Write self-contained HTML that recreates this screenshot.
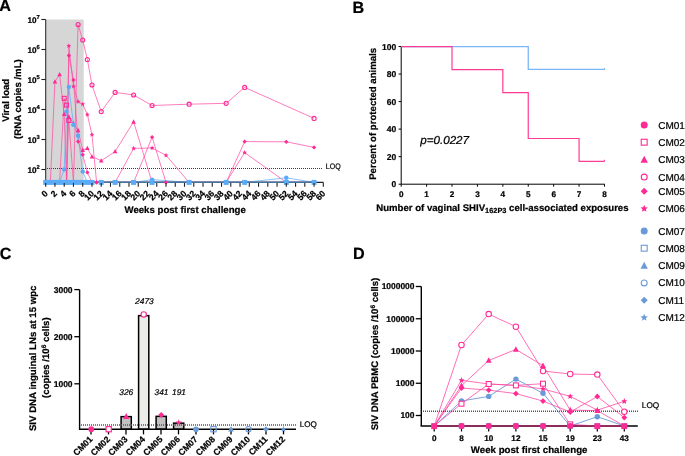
<!DOCTYPE html>
<html><head><meta charset="utf-8"><style>
html,body{margin:0;padding:0;background:#fff;}
svg{display:block;font-family:"Liberation Sans",sans-serif;will-change:transform;text-rendering:geometricPrecision;}
text{stroke:#000;stroke-width:0.22px;}
</style></head><body>
<svg width="685" height="456" viewBox="0 0 685 456">
<rect width="685" height="456" fill="#fff"/>
<g id="A">
<text x="-0.8" y="11.0" font-size="16.2" font-weight="bold" font-style="normal" text-anchor="start" fill="#000" >A</text>
<rect x="46.4" y="19.5" width="37.3" height="162.9" fill="#d6d6d6"/>
<line x1="47" y1="168.5" x2="323" y2="168.5" stroke="#3a3a3a" stroke-width="1.2" stroke-dasharray="1,1"/>
<text x="325.8" y="169.0" font-size="8" font-weight="normal" font-style="normal" text-anchor="start" fill="#000" textLength="14.9" lengthAdjust="spacingAndGlyphs" >LOQ</text>
<line x1="45.7" y1="19.5" x2="45.7" y2="182.4" stroke="#444" stroke-width="1.3"/>
<polyline points="45.70,182.40 50.33,182.40 54.95,182.40 59.58,182.40 64.21,182.40 66.52,182.40 68.84,182.40 73.46,182.40 78.09,182.40 82.72,182.40 87.34,182.40 91.97,182.40 101.22,182.40 115.11,182.40 133.61,182.40 152.12,182.40 189.14,182.40 226.15,182.40 244.66,182.40 286.30,182.40 314.07,182.40" fill="none" stroke="#ff4aa3" stroke-width="0.8" stroke-opacity="0.9"/>
<polyline points="45.70,182.40 50.33,182.40 54.95,182.40 59.58,182.40 64.21,98.30 66.52,105.10 68.84,120.50 73.46,182.40 78.09,182.40 82.72,182.40 87.34,182.40 91.97,182.40 101.22,182.40 115.11,182.40 133.61,182.40 152.12,182.40 189.14,182.40 226.15,182.40 244.66,182.40 286.30,182.40 314.07,182.40" fill="none" stroke="#ff4aa3" stroke-width="0.8" stroke-opacity="0.9"/>
<polyline points="45.70,182.40 50.33,182.40 54.95,81.70 59.58,74.50 64.21,114.10 66.52,182.40 68.84,116.80 73.46,123.50 78.09,130.40 82.72,150.10 87.34,148.20 91.97,156.70 101.22,160.70 115.11,151.50 133.61,121.80 152.12,182.40 189.14,182.40 226.15,182.40 244.66,182.40 286.30,182.40 314.07,182.40" fill="none" stroke="#ff4aa3" stroke-width="0.8" stroke-opacity="0.9"/>
<polyline points="45.70,182.40 50.33,182.40 54.95,182.40 59.58,182.40 64.21,182.40 68.84,182.40 73.46,182.40 78.09,24.60 82.72,40.00 87.34,59.50 91.97,85.00 101.22,111.60 115.11,92.40 133.61,95.00 152.12,105.50 189.14,104.20 226.15,103.30 244.66,87.40 314.07,118.40" fill="none" stroke="#ff4aa3" stroke-width="0.8" stroke-opacity="0.9"/>
<polyline points="45.70,182.40 50.33,182.40 54.95,182.40 59.58,182.40 64.21,182.40 66.52,182.40 68.84,55.50 73.46,80.00 78.09,141.60 82.72,154.70 87.34,172.40 91.97,182.40 96.60,182.40 101.22,182.40 115.11,182.40 133.61,182.40 152.12,137.20 166.00,182.40 189.14,182.40 226.15,182.40 244.66,141.60 286.30,141.80 314.07,147.40" fill="none" stroke="#ff4aa3" stroke-width="0.8" stroke-opacity="0.9"/>
<polyline points="45.70,182.40 50.33,182.40 52.64,182.40 54.95,182.40 59.58,182.40 64.21,182.40 66.52,182.40 68.84,45.90 73.46,86.30 78.09,101.60 82.72,104.20 87.34,114.60 91.97,134.70 96.60,182.40 101.22,182.40 115.11,182.40 133.61,148.40 152.12,148.00 166.00,155.30 189.14,182.40 226.15,182.40 244.66,152.60 286.30,182.40 314.07,182.40" fill="none" stroke="#ff4aa3" stroke-width="0.8" stroke-opacity="0.9"/>
<polyline points="45.70,182.40 50.33,182.40 54.95,182.40 59.58,182.40 64.21,169.40 66.52,111.60 68.84,87.00 73.46,124.70 78.09,135.70 82.72,171.60 87.34,182.40 91.97,182.40 101.22,182.40 115.11,182.40 133.61,182.40 152.12,179.60 189.14,182.40 226.15,182.40 244.66,182.40 286.30,177.80 314.07,182.40" fill="none" stroke="#5aabf7" stroke-width="0.8" stroke-opacity="0.9"/>
<polyline points="45.70,182.40 50.33,182.40 54.95,182.40 59.58,182.40 64.21,182.40 66.52,182.40 68.84,182.40 73.46,182.40 78.09,182.40 82.72,182.40 87.34,182.40 91.97,182.40 101.22,182.40 115.11,182.40 133.61,182.40 152.12,182.40 189.14,182.40 226.15,182.40 244.66,182.40 286.30,182.40 314.07,182.40" fill="none" stroke="#5aabf7" stroke-width="0.8" stroke-opacity="0.9"/>
<polyline points="45.70,182.40 50.33,182.40 54.95,182.40 59.58,182.40 64.21,182.40 66.52,182.40 68.84,182.40 73.46,182.40 78.09,182.40 82.72,182.40 87.34,182.40 91.97,182.40 101.22,182.40 115.11,182.40 133.61,182.40 152.12,182.40 189.14,182.40 226.15,182.40 244.66,182.40 286.30,182.40 314.07,182.40" fill="none" stroke="#5aabf7" stroke-width="0.8" stroke-opacity="0.9"/>
<polyline points="45.70,182.40 50.33,182.40 54.95,182.40 59.58,182.40 64.21,182.40 66.52,182.40 68.84,182.40 73.46,182.40 78.09,182.40 82.72,182.40 87.34,182.40 91.97,182.40 101.22,182.40 115.11,182.40 133.61,182.40 152.12,182.40 189.14,182.40 226.15,182.40 244.66,182.40 286.30,182.40 314.07,182.40" fill="none" stroke="#5aabf7" stroke-width="0.8" stroke-opacity="0.9"/>
<polyline points="45.70,182.40 50.33,182.40 54.95,182.40 59.58,182.40 64.21,182.40 66.52,182.40 68.84,182.40 73.46,182.40 78.09,182.40 82.72,182.40 87.34,182.40 91.97,182.40 101.22,182.40 115.11,182.40 133.61,182.40 152.12,182.40 189.14,182.40 226.15,182.40 244.66,182.40 286.30,182.40 314.07,182.40" fill="none" stroke="#5aabf7" stroke-width="0.8" stroke-opacity="0.9"/>
<polyline points="45.70,182.40 50.33,182.40 54.95,182.40 59.58,182.40 64.21,182.40 66.52,182.40 68.84,182.40 73.46,182.40 78.09,182.40 82.72,182.40 87.34,182.40 91.97,182.40 101.22,182.40 115.11,182.40 133.61,182.40 152.12,182.40 189.14,182.40 226.15,182.40 244.66,182.40 286.30,182.40 314.07,182.40" fill="none" stroke="#5aabf7" stroke-width="0.8" stroke-opacity="0.9"/>
<line x1="45.7" y1="182.4" x2="323.6" y2="182.4" stroke="#222" stroke-width="1.3"/>
<line x1="45.7" y1="182.4" x2="314.07" y2="182.4" stroke="#46729e" stroke-width="1.3"/>
<rect x="62.26" y="96.35" width="3.90" height="3.90" fill="none" stroke="#ff2a93" stroke-width="1.1"/>
<rect x="64.57" y="103.15" width="3.90" height="3.90" fill="none" stroke="#ff2a93" stroke-width="1.1"/>
<rect x="66.89" y="118.55" width="3.90" height="3.90" fill="none" stroke="#ff2a93" stroke-width="1.1"/>
<polygon points="54.95,79.15 52.64,83.55 57.26,83.55" fill="#ff2a93"/>
<polygon points="59.58,71.95 57.27,76.35 61.89,76.35" fill="#ff2a93"/>
<polygon points="64.21,111.55 61.90,115.95 66.52,115.95" fill="#ff2a93"/>
<polygon points="68.84,114.25 66.53,118.65 71.15,118.65" fill="#ff2a93"/>
<polygon points="73.46,120.95 71.15,125.35 75.77,125.35" fill="#ff2a93"/>
<polygon points="78.09,127.85 75.78,132.25 80.40,132.25" fill="#ff2a93"/>
<polygon points="82.72,147.55 80.41,151.95 85.03,151.95" fill="#ff2a93"/>
<polygon points="87.34,145.65 85.03,150.05 89.65,150.05" fill="#ff2a93"/>
<polygon points="91.97,154.15 89.66,158.55 94.28,158.55" fill="#ff2a93"/>
<polygon points="101.22,158.15 98.91,162.55 103.53,162.55" fill="#ff2a93"/>
<polygon points="115.11,148.95 112.80,153.35 117.42,153.35" fill="#ff2a93"/>
<polygon points="133.61,119.25 131.30,123.65 135.92,123.65" fill="#ff2a93"/>
<circle cx="78.09" cy="24.60" r="2.05" fill="none" stroke="#ff2a93" stroke-width="1.1"/>
<circle cx="82.72" cy="40.00" r="2.05" fill="none" stroke="#ff2a93" stroke-width="1.1"/>
<circle cx="87.34" cy="59.50" r="2.05" fill="none" stroke="#ff2a93" stroke-width="1.1"/>
<circle cx="91.97" cy="85.00" r="2.05" fill="none" stroke="#ff2a93" stroke-width="1.1"/>
<circle cx="101.22" cy="111.60" r="2.05" fill="none" stroke="#ff2a93" stroke-width="1.1"/>
<circle cx="115.11" cy="92.40" r="2.05" fill="none" stroke="#ff2a93" stroke-width="1.1"/>
<circle cx="133.61" cy="95.00" r="2.05" fill="none" stroke="#ff2a93" stroke-width="1.1"/>
<circle cx="152.12" cy="105.50" r="2.05" fill="none" stroke="#ff2a93" stroke-width="1.1"/>
<circle cx="189.14" cy="104.20" r="2.05" fill="none" stroke="#ff2a93" stroke-width="1.1"/>
<circle cx="226.15" cy="103.30" r="2.05" fill="none" stroke="#ff2a93" stroke-width="1.1"/>
<circle cx="244.66" cy="87.40" r="2.05" fill="none" stroke="#ff2a93" stroke-width="1.1"/>
<circle cx="314.07" cy="118.40" r="2.05" fill="none" stroke="#ff2a93" stroke-width="1.1"/>
<polygon points="68.84,53.35 70.99,55.50 68.84,57.65 66.69,55.50" fill="#ff2a93"/>
<polygon points="73.46,77.85 75.61,80.00 73.46,82.15 71.31,80.00" fill="#ff2a93"/>
<polygon points="78.09,139.45 80.24,141.60 78.09,143.75 75.94,141.60" fill="#ff2a93"/>
<polygon points="82.72,152.55 84.87,154.70 82.72,156.85 80.57,154.70" fill="#ff2a93"/>
<polygon points="87.34,170.25 89.49,172.40 87.34,174.55 85.19,172.40" fill="#ff2a93"/>
<polygon points="96.60,180.20 98.80,182.40 96.60,184.60 94.40,182.40" fill="#ff2a93"/>
<polygon points="152.12,135.05 154.27,137.20 152.12,139.35 149.97,137.20" fill="#ff2a93"/>
<polygon points="166.00,180.20 168.20,182.40 166.00,184.60 163.80,182.40" fill="#ff2a93"/>
<polygon points="244.66,139.45 246.81,141.60 244.66,143.75 242.51,141.60" fill="#ff2a93"/>
<polygon points="286.30,139.65 288.45,141.80 286.30,143.95 284.15,141.80" fill="#ff2a93"/>
<polygon points="314.07,145.25 316.22,147.40 314.07,149.55 311.92,147.40" fill="#ff2a93"/>
<polygon points="68.84,43.37 69.50,44.98 71.24,45.12 69.92,46.25 70.32,47.95 68.84,47.04 67.35,47.95 67.75,46.25 66.43,45.12 68.17,44.98" fill="#ff2a93"/>
<polygon points="73.46,83.77 74.13,85.38 75.87,85.52 74.54,86.65 74.95,88.35 73.46,87.44 71.97,88.35 72.38,86.65 71.06,85.52 72.79,85.38" fill="#ff2a93"/>
<polygon points="78.09,99.07 78.76,100.68 80.50,100.82 79.17,101.95 79.58,103.65 78.09,102.74 76.60,103.65 77.01,101.95 75.68,100.82 77.42,100.68" fill="#ff2a93"/>
<polygon points="82.72,101.67 83.39,103.28 85.12,103.42 83.80,104.55 84.20,106.25 82.72,105.34 81.23,106.25 81.63,104.55 80.31,103.42 82.05,103.28" fill="#ff2a93"/>
<polygon points="87.34,112.07 88.01,113.68 89.75,113.82 88.43,114.95 88.83,116.65 87.34,115.74 85.86,116.65 86.26,114.95 84.94,113.82 86.67,113.68" fill="#ff2a93"/>
<polygon points="91.97,132.17 92.64,133.78 94.38,133.92 93.05,135.05 93.46,136.75 91.97,135.84 90.48,136.75 90.89,135.05 89.56,133.92 91.30,133.78" fill="#ff2a93"/>
<polygon points="96.60,180.20 98.80,182.40 96.60,184.60 94.40,182.40" fill="#ff2a93"/>
<polygon points="133.61,145.87 134.28,147.48 136.02,147.62 134.70,148.75 135.10,150.45 133.61,149.54 132.13,150.45 132.53,148.75 131.21,147.62 132.94,147.48" fill="#ff2a93"/>
<polygon points="152.12,145.47 152.79,147.08 154.53,147.22 153.20,148.35 153.61,150.05 152.12,149.14 150.63,150.05 151.04,148.35 149.71,147.22 151.45,147.08" fill="#ff2a93"/>
<polygon points="166.00,152.77 166.67,154.38 168.41,154.52 167.08,155.65 167.49,157.35 166.00,156.44 164.51,157.35 164.92,155.65 163.60,154.52 165.33,154.38" fill="#ff2a93"/>
<polygon points="244.66,150.07 245.33,151.68 247.07,151.82 245.74,152.95 246.15,154.65 244.66,153.74 243.17,154.65 243.58,152.95 242.25,151.82 243.99,151.68" fill="#ff2a93"/>
<circle cx="64.21" cy="169.40" r="2.20" fill="#5aabf7"/>
<circle cx="66.52" cy="111.60" r="2.20" fill="#5aabf7"/>
<circle cx="68.84" cy="87.00" r="2.20" fill="#5aabf7"/>
<circle cx="73.46" cy="124.70" r="2.20" fill="#5aabf7"/>
<circle cx="78.09" cy="135.70" r="2.20" fill="#5aabf7"/>
<circle cx="82.72" cy="171.60" r="2.20" fill="#5aabf7"/>
<circle cx="152.12" cy="179.60" r="2.20" fill="#5aabf7"/>
<circle cx="286.30" cy="177.80" r="2.20" fill="#5aabf7"/>
<rect x="43.20" y="179.90" width="5.00" height="5.00" fill="#5aabf7"/>
<rect x="47.83" y="179.90" width="5.00" height="5.00" fill="#5aabf7"/>
<rect x="52.45" y="179.90" width="5.00" height="5.00" fill="#5aabf7"/>
<rect x="57.08" y="179.90" width="5.00" height="5.00" fill="#5aabf7"/>
<rect x="61.71" y="179.90" width="5.00" height="5.00" fill="#5aabf7"/>
<rect x="64.02" y="179.90" width="5.00" height="5.00" fill="#5aabf7"/>
<rect x="66.34" y="179.90" width="5.00" height="5.00" fill="#5aabf7"/>
<rect x="70.96" y="179.90" width="5.00" height="5.00" fill="#5aabf7"/>
<rect x="75.59" y="179.90" width="5.00" height="5.00" fill="#5aabf7"/>
<rect x="80.22" y="179.90" width="5.00" height="5.00" fill="#5aabf7"/>
<rect x="84.84" y="179.90" width="5.00" height="5.00" fill="#5aabf7"/>
<rect x="89.47" y="179.90" width="5.00" height="5.00" fill="#5aabf7"/>
<rect x="98.72" y="179.90" width="5.00" height="5.00" fill="#5aabf7"/>
<rect x="112.61" y="179.90" width="5.00" height="5.00" fill="#5aabf7"/>
<rect x="131.11" y="179.90" width="5.00" height="5.00" fill="#5aabf7"/>
<rect x="149.62" y="179.90" width="5.00" height="5.00" fill="#5aabf7"/>
<rect x="186.64" y="179.90" width="5.00" height="5.00" fill="#5aabf7"/>
<rect x="223.65" y="179.90" width="5.00" height="5.00" fill="#5aabf7"/>
<rect x="242.16" y="179.90" width="5.00" height="5.00" fill="#5aabf7"/>
<rect x="283.80" y="179.90" width="5.00" height="5.00" fill="#5aabf7"/>
<rect x="311.57" y="179.90" width="5.00" height="5.00" fill="#5aabf7"/>
<line x1="41.4" y1="169.5" x2="45.7" y2="169.5" stroke="#222" stroke-width="1.1"/>
<text x="36.5" y="172.7" font-size="8.2" font-weight="bold" text-anchor="end">10</text>
<text x="36.6" y="169.2" font-size="5.8" font-weight="bold">2</text>
<line x1="41.4" y1="139.5" x2="45.7" y2="139.5" stroke="#222" stroke-width="1.1"/>
<text x="36.5" y="142.7" font-size="8.2" font-weight="bold" text-anchor="end">10</text>
<text x="36.6" y="139.2" font-size="5.8" font-weight="bold">3</text>
<line x1="41.4" y1="109.5" x2="45.7" y2="109.5" stroke="#222" stroke-width="1.1"/>
<text x="36.5" y="112.7" font-size="8.2" font-weight="bold" text-anchor="end">10</text>
<text x="36.6" y="109.2" font-size="5.8" font-weight="bold">4</text>
<line x1="41.4" y1="79.5" x2="45.7" y2="79.5" stroke="#222" stroke-width="1.1"/>
<text x="36.5" y="82.7" font-size="8.2" font-weight="bold" text-anchor="end">10</text>
<text x="36.6" y="79.2" font-size="5.8" font-weight="bold">5</text>
<line x1="41.4" y1="49.5" x2="45.7" y2="49.5" stroke="#222" stroke-width="1.1"/>
<text x="36.5" y="52.7" font-size="8.2" font-weight="bold" text-anchor="end">10</text>
<text x="36.6" y="49.2" font-size="5.8" font-weight="bold">6</text>
<line x1="41.4" y1="19.5" x2="45.7" y2="19.5" stroke="#222" stroke-width="1.1"/>
<text x="36.5" y="22.7" font-size="8.2" font-weight="bold" text-anchor="end">10</text>
<text x="36.6" y="19.2" font-size="5.8" font-weight="bold">7</text>
<line x1="45.70" y1="183.0" x2="45.70" y2="186.8" stroke="#222" stroke-width="1.1"/>
<text transform="translate(48.40,194.1) rotate(-45)" font-size="8.7" font-weight="bold" text-anchor="end">0</text>
<line x1="54.95" y1="183.0" x2="54.95" y2="186.8" stroke="#222" stroke-width="1.1"/>
<text transform="translate(57.65,194.1) rotate(-45)" font-size="8.7" font-weight="bold" text-anchor="end">2</text>
<line x1="64.21" y1="183.0" x2="64.21" y2="186.8" stroke="#222" stroke-width="1.1"/>
<text transform="translate(66.91,194.1) rotate(-45)" font-size="8.7" font-weight="bold" text-anchor="end">4</text>
<line x1="73.46" y1="183.0" x2="73.46" y2="186.8" stroke="#222" stroke-width="1.1"/>
<text transform="translate(76.16,194.1) rotate(-45)" font-size="8.7" font-weight="bold" text-anchor="end">6</text>
<line x1="82.72" y1="183.0" x2="82.72" y2="186.8" stroke="#222" stroke-width="1.1"/>
<text transform="translate(85.42,194.1) rotate(-45)" font-size="8.7" font-weight="bold" text-anchor="end">8</text>
<line x1="91.97" y1="183.0" x2="91.97" y2="186.8" stroke="#222" stroke-width="1.1"/>
<text transform="translate(94.67,194.1) rotate(-45)" font-size="8.7" font-weight="bold" text-anchor="end">10</text>
<line x1="101.22" y1="183.0" x2="101.22" y2="186.8" stroke="#222" stroke-width="1.1"/>
<text transform="translate(103.92,194.1) rotate(-45)" font-size="8.7" font-weight="bold" text-anchor="end">12</text>
<line x1="110.48" y1="183.0" x2="110.48" y2="186.8" stroke="#222" stroke-width="1.1"/>
<text transform="translate(113.18,194.1) rotate(-45)" font-size="8.7" font-weight="bold" text-anchor="end">14</text>
<line x1="119.73" y1="183.0" x2="119.73" y2="186.8" stroke="#222" stroke-width="1.1"/>
<text transform="translate(122.43,194.1) rotate(-45)" font-size="8.7" font-weight="bold" text-anchor="end">16</text>
<line x1="128.99" y1="183.0" x2="128.99" y2="186.8" stroke="#222" stroke-width="1.1"/>
<text transform="translate(131.69,194.1) rotate(-45)" font-size="8.7" font-weight="bold" text-anchor="end">18</text>
<line x1="138.24" y1="183.0" x2="138.24" y2="186.8" stroke="#222" stroke-width="1.1"/>
<text transform="translate(140.94,194.1) rotate(-45)" font-size="8.7" font-weight="bold" text-anchor="end">20</text>
<line x1="147.49" y1="183.0" x2="147.49" y2="186.8" stroke="#222" stroke-width="1.1"/>
<text transform="translate(150.19,194.1) rotate(-45)" font-size="8.7" font-weight="bold" text-anchor="end">22</text>
<line x1="156.75" y1="183.0" x2="156.75" y2="186.8" stroke="#222" stroke-width="1.1"/>
<text transform="translate(159.45,194.1) rotate(-45)" font-size="8.7" font-weight="bold" text-anchor="end">24</text>
<line x1="166.00" y1="183.0" x2="166.00" y2="186.8" stroke="#222" stroke-width="1.1"/>
<text transform="translate(168.70,194.1) rotate(-45)" font-size="8.7" font-weight="bold" text-anchor="end">26</text>
<line x1="175.26" y1="183.0" x2="175.26" y2="186.8" stroke="#222" stroke-width="1.1"/>
<text transform="translate(177.96,194.1) rotate(-45)" font-size="8.7" font-weight="bold" text-anchor="end">28</text>
<line x1="184.51" y1="183.0" x2="184.51" y2="186.8" stroke="#222" stroke-width="1.1"/>
<text transform="translate(187.21,194.1) rotate(-45)" font-size="8.7" font-weight="bold" text-anchor="end">30</text>
<line x1="193.76" y1="183.0" x2="193.76" y2="186.8" stroke="#222" stroke-width="1.1"/>
<text transform="translate(196.46,194.1) rotate(-45)" font-size="8.7" font-weight="bold" text-anchor="end">32</text>
<line x1="203.02" y1="183.0" x2="203.02" y2="186.8" stroke="#222" stroke-width="1.1"/>
<text transform="translate(205.72,194.1) rotate(-45)" font-size="8.7" font-weight="bold" text-anchor="end">34</text>
<line x1="212.27" y1="183.0" x2="212.27" y2="186.8" stroke="#222" stroke-width="1.1"/>
<text transform="translate(214.97,194.1) rotate(-45)" font-size="8.7" font-weight="bold" text-anchor="end">36</text>
<line x1="221.53" y1="183.0" x2="221.53" y2="186.8" stroke="#222" stroke-width="1.1"/>
<text transform="translate(224.23,194.1) rotate(-45)" font-size="8.7" font-weight="bold" text-anchor="end">38</text>
<line x1="230.78" y1="183.0" x2="230.78" y2="186.8" stroke="#222" stroke-width="1.1"/>
<text transform="translate(233.48,194.1) rotate(-45)" font-size="8.7" font-weight="bold" text-anchor="end">40</text>
<line x1="240.03" y1="183.0" x2="240.03" y2="186.8" stroke="#222" stroke-width="1.1"/>
<text transform="translate(242.73,194.1) rotate(-45)" font-size="8.7" font-weight="bold" text-anchor="end">42</text>
<line x1="249.29" y1="183.0" x2="249.29" y2="186.8" stroke="#222" stroke-width="1.1"/>
<text transform="translate(251.99,194.1) rotate(-45)" font-size="8.7" font-weight="bold" text-anchor="end">44</text>
<line x1="258.54" y1="183.0" x2="258.54" y2="186.8" stroke="#222" stroke-width="1.1"/>
<text transform="translate(261.24,194.1) rotate(-45)" font-size="8.7" font-weight="bold" text-anchor="end">46</text>
<line x1="267.80" y1="183.0" x2="267.80" y2="186.8" stroke="#222" stroke-width="1.1"/>
<text transform="translate(270.50,194.1) rotate(-45)" font-size="8.7" font-weight="bold" text-anchor="end">48</text>
<line x1="277.05" y1="183.0" x2="277.05" y2="186.8" stroke="#222" stroke-width="1.1"/>
<text transform="translate(279.75,194.1) rotate(-45)" font-size="8.7" font-weight="bold" text-anchor="end">50</text>
<line x1="286.30" y1="183.0" x2="286.30" y2="186.8" stroke="#222" stroke-width="1.1"/>
<text transform="translate(289.00,194.1) rotate(-45)" font-size="8.7" font-weight="bold" text-anchor="end">52</text>
<line x1="295.56" y1="183.0" x2="295.56" y2="186.8" stroke="#222" stroke-width="1.1"/>
<text transform="translate(298.26,194.1) rotate(-45)" font-size="8.7" font-weight="bold" text-anchor="end">54</text>
<line x1="304.81" y1="183.0" x2="304.81" y2="186.8" stroke="#222" stroke-width="1.1"/>
<text transform="translate(307.51,194.1) rotate(-45)" font-size="8.7" font-weight="bold" text-anchor="end">56</text>
<line x1="314.07" y1="183.0" x2="314.07" y2="186.8" stroke="#222" stroke-width="1.1"/>
<text transform="translate(316.77,194.1) rotate(-45)" font-size="8.7" font-weight="bold" text-anchor="end">58</text>
<line x1="323.32" y1="183.0" x2="323.32" y2="186.8" stroke="#222" stroke-width="1.1"/>
<text transform="translate(326.02,194.1) rotate(-45)" font-size="8.7" font-weight="bold" text-anchor="end">60</text>
<text x="185.15" y="213.2" font-size="9.6" font-weight="bold" font-style="normal" text-anchor="middle" fill="#000" textLength="121.3" lengthAdjust="spacingAndGlyphs" >Weeks post first challenge</text>
<text transform="translate(8.9,100.3) rotate(-90)" font-size="9.6" font-weight="bold" text-anchor="middle">Viral load</text>
<text transform="translate(20.9,99.1) rotate(-90)" font-size="9.6" font-weight="bold" text-anchor="middle">(RNA copies /mL)</text>
</g>
<g id="B">
<text x="352.6" y="13.4" font-size="16.2" font-weight="bold" font-style="normal" text-anchor="start" fill="#000" >B</text>
<line x1="401.2" y1="46.5" x2="401.2" y2="184.2" stroke="#000" stroke-width="1"/>
<line x1="401.2" y1="184.2" x2="604.78" y2="184.2" stroke="#000" stroke-width="1"/>
<line x1="398.6" y1="184.20" x2="401.2" y2="184.20" stroke="#000" stroke-width="1"/>
<text x="396.3" y="187.20" font-size="8.5" font-weight="bold" text-anchor="end">0</text>
<line x1="398.6" y1="156.66" x2="401.2" y2="156.66" stroke="#000" stroke-width="1"/>
<text x="396.3" y="159.66" font-size="8.5" font-weight="bold" text-anchor="end">20</text>
<line x1="398.6" y1="129.12" x2="401.2" y2="129.12" stroke="#000" stroke-width="1"/>
<text x="396.3" y="132.12" font-size="8.5" font-weight="bold" text-anchor="end">40</text>
<line x1="398.6" y1="101.58" x2="401.2" y2="101.58" stroke="#000" stroke-width="1"/>
<text x="396.3" y="104.58" font-size="8.5" font-weight="bold" text-anchor="end">60</text>
<line x1="398.6" y1="74.04" x2="401.2" y2="74.04" stroke="#000" stroke-width="1"/>
<text x="396.3" y="77.04" font-size="8.5" font-weight="bold" text-anchor="end">80</text>
<line x1="398.6" y1="46.50" x2="401.2" y2="46.50" stroke="#000" stroke-width="1"/>
<text x="396.3" y="49.50" font-size="8.5" font-weight="bold" text-anchor="end">100</text>
<line x1="401.20" y1="184.2" x2="401.20" y2="186.7" stroke="#000" stroke-width="1"/>
<text x="401.20" y="197.2" font-size="8.2" font-weight="bold" text-anchor="middle">0</text>
<line x1="426.61" y1="184.2" x2="426.61" y2="186.7" stroke="#000" stroke-width="1"/>
<text x="426.61" y="197.2" font-size="8.2" font-weight="bold" text-anchor="middle">1</text>
<line x1="452.02" y1="184.2" x2="452.02" y2="186.7" stroke="#000" stroke-width="1"/>
<text x="452.02" y="197.2" font-size="8.2" font-weight="bold" text-anchor="middle">2</text>
<line x1="477.43" y1="184.2" x2="477.43" y2="186.7" stroke="#000" stroke-width="1"/>
<text x="477.43" y="197.2" font-size="8.2" font-weight="bold" text-anchor="middle">3</text>
<line x1="502.84" y1="184.2" x2="502.84" y2="186.7" stroke="#000" stroke-width="1"/>
<text x="502.84" y="197.2" font-size="8.2" font-weight="bold" text-anchor="middle">4</text>
<line x1="528.25" y1="184.2" x2="528.25" y2="186.7" stroke="#000" stroke-width="1"/>
<text x="528.25" y="197.2" font-size="8.2" font-weight="bold" text-anchor="middle">5</text>
<line x1="553.66" y1="184.2" x2="553.66" y2="186.7" stroke="#000" stroke-width="1"/>
<text x="553.66" y="197.2" font-size="8.2" font-weight="bold" text-anchor="middle">6</text>
<line x1="579.07" y1="184.2" x2="579.07" y2="186.7" stroke="#000" stroke-width="1"/>
<text x="579.07" y="197.2" font-size="8.2" font-weight="bold" text-anchor="middle">7</text>
<line x1="604.48" y1="184.2" x2="604.48" y2="186.7" stroke="#000" stroke-width="1"/>
<text x="604.48" y="197.2" font-size="8.2" font-weight="bold" text-anchor="middle">8</text>
<polyline points="401.20,46.50 528.25,46.50 528.25,69.45 604.48,69.45" fill="none" stroke="#78b6f6" stroke-width="1.25"/>
<line x1="604.48" y1="67.95" x2="604.48" y2="69.95" stroke="#78b6f6" stroke-width="1"/>
<polyline points="401.20,46.70 452.02,46.70 452.02,69.65 502.84,69.65 502.84,92.60 528.25,92.60 528.25,138.50 579.07,138.50 579.07,161.45 604.48,161.45" fill="none" stroke="#ff3a95" stroke-width="1.2"/>
<line x1="604.48" y1="159.75" x2="604.48" y2="161.75" stroke="#ff4aa3" stroke-width="1"/>
<text x="420.2" y="144.2" font-size="11.5" font-weight="normal" font-style="italic" text-anchor="start" fill="#000" textLength="48.9" lengthAdjust="spacingAndGlyphs" >p=0.0227</text>
<text transform="translate(376.0,113.85) rotate(-90)" font-size="9.6" font-weight="bold" text-anchor="middle" textLength="132" lengthAdjust="spacingAndGlyphs">Percent of protected animals</text>
<text x="376.3" y="210.9" font-size="9.6" font-weight="bold">Number of vaginal SHIV<tspan font-size="7.4" dy="2.4">162P3</tspan><tspan dy="-2.4"> cell-associated exposures</tspan></text>
</g>
<g id="legend">
<circle cx="644.20" cy="125.10" r="3.50" fill="#ff2a93"/>
<text x="658.2" y="128.5" font-size="10">CM01</text>
<rect x="641.25" y="139.25" width="5.90" height="5.90" fill="#fff" stroke="#ff2a93" stroke-width="1.1"/>
<text x="658.2" y="145.6" font-size="10">CM02</text>
<polygon points="644.20,155.64 640.53,162.64 647.88,162.64" fill="#ff2a93"/>
<text x="658.2" y="163.1" font-size="10">CM03</text>
<circle cx="644.20" cy="177.10" r="2.95" fill="#fff" stroke="#ff2a93" stroke-width="1.1"/>
<text x="658.2" y="180.5" font-size="10">CM04</text>
<polygon points="644.20,187.80 647.70,191.30 644.20,194.80 640.70,191.30" fill="#ff2a93"/>
<text x="658.2" y="194.7" font-size="10">CM05</text>
<polygon points="644.20,204.85 645.22,207.30 647.86,207.51 645.85,209.24 646.46,211.81 644.20,210.43 641.94,211.81 642.55,209.24 640.54,207.51 643.18,207.30" fill="#ff2a93"/>
<text x="658.2" y="212.1" font-size="10">CM06</text>
<circle cx="644.20" cy="231.10" r="3.50" fill="#6a9bd8"/>
<text x="658.2" y="234.5" font-size="10">CM07</text>
<rect x="641.25" y="245.25" width="5.90" height="5.90" fill="#fff" stroke="#6a9bd8" stroke-width="1.1"/>
<text x="658.2" y="251.6" font-size="10">CM08</text>
<polygon points="644.20,261.64 640.53,268.64 647.88,268.64" fill="#6a9bd8"/>
<text x="658.2" y="269.1" font-size="10">CM09</text>
<circle cx="644.20" cy="282.90" r="2.95" fill="#fff" stroke="#6a9bd8" stroke-width="1.1"/>
<text x="658.2" y="286.3" font-size="10">CM10</text>
<polygon points="644.20,296.80 647.70,300.30 644.20,303.80 640.70,300.30" fill="#6a9bd8"/>
<text x="658.2" y="303.7" font-size="10">CM11</text>
<polygon points="644.20,313.75 645.22,316.20 647.86,316.41 645.85,318.14 646.46,320.71 644.20,319.33 641.94,320.71 642.55,318.14 640.54,316.41 643.18,316.20" fill="#6a9bd8"/>
<text x="658.2" y="321.0" font-size="10">CM12</text>
</g>
<g id="C">
<text x="-0.3" y="259.1" font-size="16.2" font-weight="bold" font-style="normal" text-anchor="start" fill="#000" >C</text>
<line x1="79.6" y1="289.60" x2="79.6" y2="429.2" stroke="#000" stroke-width="1.4"/>
<line x1="74.3" y1="383.80" x2="79.6" y2="383.80" stroke="#000" stroke-width="1.3"/>
<text x="72.6" y="386.80" font-size="8.5" font-weight="bold" text-anchor="end">1000</text>
<line x1="74.3" y1="336.70" x2="79.6" y2="336.70" stroke="#000" stroke-width="1.3"/>
<text x="72.6" y="339.70" font-size="8.5" font-weight="bold" text-anchor="end">2000</text>
<line x1="74.3" y1="289.60" x2="79.6" y2="289.60" stroke="#000" stroke-width="1.3"/>
<text x="72.6" y="292.60" font-size="8.5" font-weight="bold" text-anchor="end">3000</text>
<text x="299.7" y="427.2" font-size="8.1" font-weight="normal" font-style="normal" text-anchor="start" fill="#000" textLength="17.1" lengthAdjust="spacingAndGlyphs" >LOQ</text>
<rect x="121.10" y="416.65" width="10.2" height="12.55" fill="#c2c1c2" stroke="#000" stroke-width="1.5"/>
<rect x="138.60" y="315.65" width="10.2" height="113.55" fill="#ecece9" stroke="#000" stroke-width="1.5"/>
<rect x="156.10" y="416.35" width="10.2" height="12.85" fill="#c2c1c2" stroke="#000" stroke-width="1.5"/>
<rect x="173.60" y="423.15" width="10.2" height="6.05" fill="#c2c1c2" stroke="#000" stroke-width="1.5"/>
<line x1="81" y1="424.9" x2="296" y2="424.9" stroke="#555" stroke-width="1.5" stroke-dasharray="1,1"/>
<line x1="78.89999999999999" y1="429.2" x2="296" y2="429.2" stroke="#000" stroke-width="1.5"/>
<line x1="91.00" y1="429.2" x2="91.00" y2="434.4" stroke="#000" stroke-width="1.3"/>
<text transform="translate(93.20,439.8) rotate(-45)" font-size="8.7" font-weight="bold" text-anchor="end">CM01</text>
<line x1="108.50" y1="429.2" x2="108.50" y2="434.4" stroke="#000" stroke-width="1.3"/>
<text transform="translate(110.70,439.8) rotate(-45)" font-size="8.7" font-weight="bold" text-anchor="end">CM02</text>
<line x1="126.00" y1="429.2" x2="126.00" y2="434.4" stroke="#000" stroke-width="1.3"/>
<text transform="translate(128.20,439.8) rotate(-45)" font-size="8.7" font-weight="bold" text-anchor="end">CM03</text>
<line x1="143.50" y1="429.2" x2="143.50" y2="434.4" stroke="#000" stroke-width="1.3"/>
<text transform="translate(145.70,439.8) rotate(-45)" font-size="8.7" font-weight="bold" text-anchor="end">CM04</text>
<line x1="161.00" y1="429.2" x2="161.00" y2="434.4" stroke="#000" stroke-width="1.3"/>
<text transform="translate(163.20,439.8) rotate(-45)" font-size="8.7" font-weight="bold" text-anchor="end">CM05</text>
<line x1="178.50" y1="429.2" x2="178.50" y2="434.4" stroke="#000" stroke-width="1.3"/>
<text transform="translate(180.70,439.8) rotate(-45)" font-size="8.7" font-weight="bold" text-anchor="end">CM06</text>
<line x1="196.00" y1="429.2" x2="196.00" y2="434.4" stroke="#000" stroke-width="1.3"/>
<text transform="translate(198.20,439.8) rotate(-45)" font-size="8.7" font-weight="bold" text-anchor="end">CM07</text>
<line x1="213.50" y1="429.2" x2="213.50" y2="434.4" stroke="#000" stroke-width="1.3"/>
<text transform="translate(215.70,439.8) rotate(-45)" font-size="8.7" font-weight="bold" text-anchor="end">CM08</text>
<line x1="231.00" y1="429.2" x2="231.00" y2="434.4" stroke="#000" stroke-width="1.3"/>
<text transform="translate(233.20,439.8) rotate(-45)" font-size="8.7" font-weight="bold" text-anchor="end">CM09</text>
<line x1="248.50" y1="429.2" x2="248.50" y2="434.4" stroke="#000" stroke-width="1.3"/>
<text transform="translate(250.70,439.8) rotate(-45)" font-size="8.7" font-weight="bold" text-anchor="end">CM10</text>
<line x1="266.00" y1="429.2" x2="266.00" y2="434.4" stroke="#000" stroke-width="1.3"/>
<text transform="translate(268.20,439.8) rotate(-45)" font-size="8.7" font-weight="bold" text-anchor="end">CM11</text>
<line x1="283.50" y1="429.2" x2="283.50" y2="434.4" stroke="#000" stroke-width="1.3"/>
<text transform="translate(285.70,439.8) rotate(-45)" font-size="8.7" font-weight="bold" text-anchor="end">CM12</text>
<circle cx="91.20" cy="429.20" r="2.85" fill="#ff2a93"/>
<rect x="106.10" y="426.60" width="5.20" height="5.20" fill="#fff" stroke="#ff2a93" stroke-width="1.2"/>
<polygon points="126.20,412.92 123.05,418.92 129.35,418.92" fill="#ff2a93"/>
<circle cx="143.70" cy="314.40" r="2.65" fill="#fff" stroke="#ff2a93" stroke-width="1.2"/>
<polygon points="161.20,412.10 164.20,415.10 161.20,418.10 158.20,415.10" fill="#ff2a93"/>
<polygon points="178.70,419.30 179.57,421.40 181.84,421.58 180.11,423.06 180.64,425.27 178.70,424.09 176.76,425.27 177.29,423.06 175.56,421.58 177.83,421.40" fill="#ff2a93"/>
<circle cx="196.00" cy="429.20" r="2.80" fill="#6a9bd8"/>
<rect x="210.85" y="426.55" width="5.30" height="5.30" fill="none" stroke="#6a9bd8" stroke-width="1.1"/>
<polygon points="231.00,426.07 228.16,431.47 233.84,431.47" fill="#6a9bd8"/>
<circle cx="248.50" cy="429.20" r="2.65" fill="none" stroke="#6a9bd8" stroke-width="1.1"/>
<polygon points="266.00,426.30 268.90,429.20 266.00,432.10 263.10,429.20" fill="#6a9bd8"/>
<polygon points="283.50,425.90 284.37,428.00 286.64,428.18 284.91,429.66 285.44,431.87 283.50,430.69 281.56,431.87 282.09,429.66 280.36,428.18 282.63,428.00" fill="#6a9bd8"/>
<text x="144.4" y="304.0" font-size="8.4" font-weight="normal" font-style="italic" text-anchor="middle" fill="#000" >2473</text>
<text x="126.3" y="395.0" font-size="8.4" font-weight="normal" font-style="italic" text-anchor="middle" fill="#000" >326</text>
<text x="161.5" y="395.0" font-size="8.4" font-weight="normal" font-style="italic" text-anchor="middle" fill="#000" >341</text>
<text x="179.0" y="395.0" font-size="8.4" font-weight="normal" font-style="italic" text-anchor="middle" fill="#000" >191</text>
<text transform="translate(36.4,358.3) rotate(-90)" font-size="9.6" font-weight="bold" text-anchor="middle" textLength="145.6" lengthAdjust="spacingAndGlyphs">SIV DNA inguinal LNs at 15 wpc</text>
<text transform="translate(48.9,357.65) rotate(-90)" font-size="9.6" font-weight="bold" text-anchor="middle">(copies /10<tspan font-size="6.6" dy="-2.9">6</tspan><tspan dy="2.9"> cells)</tspan></text>
</g>
<g id="D">
<text x="352.9" y="259.1" font-size="16.2" font-weight="bold" font-style="normal" text-anchor="start" fill="#000" >D</text>
<line x1="421.3" y1="286.5" x2="421.3" y2="426.0" stroke="#000" stroke-width="1.4"/>
<line x1="415.8" y1="415.50" x2="421.3" y2="415.50" stroke="#000" stroke-width="1.3"/>
<text x="414.5" y="418.30" font-size="8.45" font-weight="bold" text-anchor="end">100</text>
<line x1="415.8" y1="383.25" x2="421.3" y2="383.25" stroke="#000" stroke-width="1.3"/>
<text x="414.5" y="386.05" font-size="8.45" font-weight="bold" text-anchor="end">1000</text>
<line x1="415.8" y1="351.00" x2="421.3" y2="351.00" stroke="#000" stroke-width="1.3"/>
<text x="414.5" y="353.80" font-size="8.45" font-weight="bold" text-anchor="end">10000</text>
<line x1="415.8" y1="318.75" x2="421.3" y2="318.75" stroke="#000" stroke-width="1.3"/>
<text x="414.5" y="321.55" font-size="8.45" font-weight="bold" text-anchor="end">100000</text>
<line x1="415.8" y1="286.50" x2="421.3" y2="286.50" stroke="#000" stroke-width="1.3"/>
<text x="414.5" y="289.30" font-size="8.45" font-weight="bold" text-anchor="end">1000000</text>
<text x="641.8" y="407.6" font-size="8.2" font-weight="normal" font-style="normal" text-anchor="start" fill="#000" textLength="17.4" lengthAdjust="spacingAndGlyphs" >LOQ</text>
<line x1="420.6" y1="426.0" x2="637.8" y2="426.0" stroke="#000" stroke-width="1.5"/>
<line x1="434.2" y1="426.0" x2="434.2" y2="431.5" stroke="#000" stroke-width="1.2"/>
<text x="434.2" y="440.8" font-size="8.2" font-weight="bold" text-anchor="middle">0</text>
<line x1="461.5" y1="426.0" x2="461.5" y2="431.5" stroke="#000" stroke-width="1.2"/>
<text x="461.5" y="440.8" font-size="8.2" font-weight="bold" text-anchor="middle">8</text>
<line x1="488.7" y1="426.0" x2="488.7" y2="431.5" stroke="#000" stroke-width="1.2"/>
<text x="488.7" y="440.8" font-size="8.2" font-weight="bold" text-anchor="middle">10</text>
<line x1="515.9" y1="426.0" x2="515.9" y2="431.5" stroke="#000" stroke-width="1.2"/>
<text x="515.9" y="440.8" font-size="8.2" font-weight="bold" text-anchor="middle">12</text>
<line x1="543.0" y1="426.0" x2="543.0" y2="431.5" stroke="#000" stroke-width="1.2"/>
<text x="543.0" y="440.8" font-size="8.2" font-weight="bold" text-anchor="middle">15</text>
<line x1="570.2" y1="426.0" x2="570.2" y2="431.5" stroke="#000" stroke-width="1.2"/>
<text x="570.2" y="440.8" font-size="8.2" font-weight="bold" text-anchor="middle">19</text>
<line x1="597.3" y1="426.0" x2="597.3" y2="431.5" stroke="#000" stroke-width="1.2"/>
<text x="597.3" y="440.8" font-size="8.2" font-weight="bold" text-anchor="middle">23</text>
<line x1="624.3" y1="426.0" x2="624.3" y2="431.5" stroke="#000" stroke-width="1.2"/>
<text x="624.3" y="440.8" font-size="8.2" font-weight="bold" text-anchor="middle">43</text>
<polyline points="434.20,426.00 461.50,401.00 488.70,396.40 515.90,379.10 543.00,393.30 570.20,426.00 597.30,416.70 624.30,426.00" fill="none" stroke="#6a9bd8" stroke-width="0.9"/>
<rect x="431.40" y="423.20" width="5.60" height="5.60" fill="#6a9bd8"/>
<rect x="458.70" y="423.20" width="5.60" height="5.60" fill="#6a9bd8"/>
<rect x="485.90" y="423.20" width="5.60" height="5.60" fill="#6a9bd8"/>
<rect x="513.10" y="423.20" width="5.60" height="5.60" fill="#6a9bd8"/>
<rect x="540.20" y="423.20" width="5.60" height="5.60" fill="#6a9bd8"/>
<rect x="567.40" y="423.20" width="5.60" height="5.60" fill="#6a9bd8"/>
<rect x="594.50" y="423.20" width="5.60" height="5.60" fill="#6a9bd8"/>
<rect x="621.50" y="423.20" width="5.60" height="5.60" fill="#6a9bd8"/>
<polyline points="434.20,426.00 461.50,426.00 488.70,426.00 515.90,426.00 543.00,426.00 570.20,426.00 597.30,426.00 624.30,426.00" fill="none" stroke="#ff4aa3" stroke-width="0.8"/>
<polyline points="434.20,426.00 461.50,403.70 488.70,384.00 515.90,385.40 543.00,383.70 570.20,424.40 597.30,426.00 624.30,426.00" fill="none" stroke="#ff4aa3" stroke-width="0.8"/>
<polyline points="434.20,426.00 461.50,385.70 488.70,360.50 515.90,349.40 543.00,365.70 570.20,410.10 597.30,410.60 624.30,426.00" fill="none" stroke="#ff4aa3" stroke-width="0.8"/>
<polyline points="434.20,426.00 461.50,345.00 488.70,314.10 515.90,326.70 543.00,371.00 570.20,374.00 597.30,374.60 624.30,411.70" fill="none" stroke="#ff4aa3" stroke-width="0.8"/>
<polyline points="434.20,426.00 461.50,388.10 488.70,390.10 515.90,393.60 543.00,401.10 570.20,412.00 597.30,396.50 624.30,417.60" fill="none" stroke="#ff4aa3" stroke-width="0.8"/>
<polyline points="434.20,426.00 461.50,380.30 488.70,384.00 515.90,385.40 543.00,388.90 570.20,396.40 597.30,410.10 624.30,401.30" fill="none" stroke="#ff4aa3" stroke-width="0.8"/>
<line x1="434.2" y1="426.0" x2="624.3" y2="426.0" stroke="#8a2458" stroke-width="1.4"/>
<line x1="423" y1="411.2" x2="638" y2="411.2" stroke="#555" stroke-width="1.4" stroke-dasharray="1,1"/>
<circle cx="461.50" cy="401.00" r="2.70" fill="#6a9bd8"/>
<circle cx="488.70" cy="396.40" r="2.70" fill="#6a9bd8"/>
<circle cx="515.90" cy="379.10" r="2.70" fill="#6a9bd8"/>
<circle cx="543.00" cy="393.30" r="2.70" fill="#6a9bd8"/>
<circle cx="597.30" cy="416.70" r="2.70" fill="#6a9bd8"/>
<polygon points="461.50,377.11 462.34,379.14 464.53,379.31 462.87,380.74 463.38,382.88 461.50,381.74 459.62,382.88 460.13,380.74 458.47,379.31 460.66,379.14" fill="#ff2a93"/>
<polygon points="488.70,380.81 489.54,382.84 491.73,383.01 490.07,384.44 490.58,386.58 488.70,385.44 486.82,386.58 487.33,384.44 485.67,383.01 487.86,382.84" fill="#ff2a93"/>
<polygon points="515.90,382.21 516.74,384.24 518.93,384.41 517.27,385.84 517.78,387.98 515.90,386.84 514.02,387.98 514.53,385.84 512.87,384.41 515.06,384.24" fill="#ff2a93"/>
<polygon points="543.00,385.71 543.84,387.74 546.03,387.91 544.37,389.34 544.88,391.48 543.00,390.34 541.12,391.48 541.63,389.34 539.97,387.91 542.16,387.74" fill="#ff2a93"/>
<polygon points="570.20,393.21 571.04,395.24 573.23,395.41 571.57,396.84 572.08,398.98 570.20,397.84 568.32,398.98 568.83,396.84 567.17,395.41 569.36,395.24" fill="#ff2a93"/>
<polygon points="597.30,406.91 598.14,408.94 600.33,409.11 598.67,410.54 599.18,412.68 597.30,411.54 595.42,412.68 595.93,410.54 594.27,409.11 596.46,408.94" fill="#ff2a93"/>
<polygon points="624.30,398.11 625.14,400.14 627.33,400.31 625.67,401.74 626.18,403.88 624.30,402.74 622.42,403.88 622.93,401.74 621.27,400.31 623.46,400.14" fill="#ff2a93"/>
<polygon points="461.50,385.20 464.40,388.10 461.50,391.00 458.60,388.10" fill="#ff2a93"/>
<polygon points="488.70,387.20 491.60,390.10 488.70,393.00 485.80,390.10" fill="#ff2a93"/>
<polygon points="515.90,390.70 518.80,393.60 515.90,396.50 513.00,393.60" fill="#ff2a93"/>
<polygon points="543.00,398.20 545.90,401.10 543.00,404.00 540.10,401.10" fill="#ff2a93"/>
<polygon points="570.20,409.10 573.10,412.00 570.20,414.90 567.30,412.00" fill="#ff2a93"/>
<polygon points="597.30,393.60 600.20,396.50 597.30,399.40 594.40,396.50" fill="#ff2a93"/>
<polygon points="624.30,414.70 627.20,417.60 624.30,420.50 621.40,417.60" fill="#ff2a93"/>
<rect x="459.02" y="401.22" width="4.95" height="4.95" fill="#fff" stroke="#ff2a93" stroke-width="1.05"/>
<rect x="486.22" y="381.52" width="4.95" height="4.95" fill="#fff" stroke="#ff2a93" stroke-width="1.05"/>
<rect x="513.42" y="382.92" width="4.95" height="4.95" fill="#fff" stroke="#ff2a93" stroke-width="1.05"/>
<rect x="540.52" y="381.22" width="4.95" height="4.95" fill="#fff" stroke="#ff2a93" stroke-width="1.05"/>
<rect x="567.73" y="421.92" width="4.95" height="4.95" fill="#fff" stroke="#ff2a93" stroke-width="1.05"/>
<polygon points="461.50,382.45 458.56,388.05 464.44,388.05" fill="#ff2a93"/>
<polygon points="488.70,357.25 485.76,362.85 491.64,362.85" fill="#ff2a93"/>
<polygon points="515.90,346.15 512.96,351.75 518.84,351.75" fill="#ff2a93"/>
<polygon points="543.00,362.45 540.06,368.05 545.94,368.05" fill="#ff2a93"/>
<polygon points="570.20,406.85 567.26,412.45 573.14,412.45" fill="#ff2a93"/>
<polygon points="597.30,407.35 594.36,412.95 600.24,412.95" fill="#ff2a93"/>
<circle cx="461.50" cy="345.00" r="2.73" fill="#fff" stroke="#ff2a93" stroke-width="1.05"/>
<circle cx="488.70" cy="314.10" r="2.73" fill="#fff" stroke="#ff2a93" stroke-width="1.05"/>
<circle cx="515.90" cy="326.70" r="2.73" fill="#fff" stroke="#ff2a93" stroke-width="1.05"/>
<circle cx="543.00" cy="371.00" r="2.73" fill="#fff" stroke="#ff2a93" stroke-width="1.05"/>
<circle cx="570.20" cy="374.00" r="2.73" fill="#fff" stroke="#ff2a93" stroke-width="1.05"/>
<circle cx="597.30" cy="374.60" r="2.73" fill="#fff" stroke="#ff2a93" stroke-width="1.05"/>
<circle cx="624.30" cy="411.70" r="2.73" fill="#fff" stroke="#ff2a93" stroke-width="1.05"/>
<rect x="431.30" y="423.30" width="5.80" height="5.80" fill="#ff2a93"/>
<circle cx="461.50" cy="426.00" r="2.90" fill="#ff2a93"/>
<circle cx="488.70" cy="426.00" r="2.90" fill="#ff2a93"/>
<circle cx="515.90" cy="426.00" r="2.90" fill="#ff2a93"/>
<circle cx="543.00" cy="426.00" r="2.90" fill="#ff2a93"/>
<circle cx="570.20" cy="426.00" r="2.90" fill="#ff2a93"/>
<rect x="594.40" y="423.30" width="5.80" height="5.80" fill="#ff2a93"/>
<rect x="621.40" y="423.30" width="5.80" height="5.80" fill="#ff2a93"/>
<text x="529.15" y="453.2" font-size="9.6" font-weight="bold" font-style="normal" text-anchor="middle" fill="#000" textLength="116.7" lengthAdjust="spacingAndGlyphs" >Week post first challenge</text>
<text transform="translate(377.6,354.0) rotate(-90)" font-size="9.6" font-weight="bold" text-anchor="middle">SIV DNA PBMC (copies /10<tspan font-size="6.6" dy="-2.9">6</tspan><tspan dy="2.9"> cells)</tspan></text>
</g>
</svg>
</body></html>
